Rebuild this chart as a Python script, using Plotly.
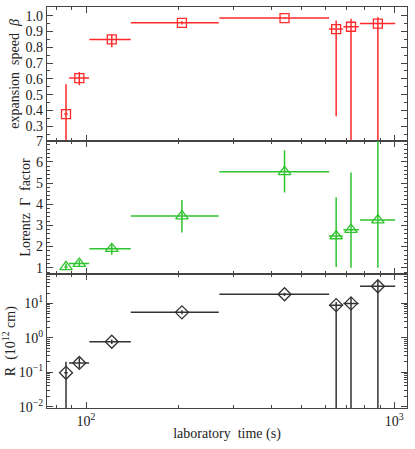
import numpy as np
import plotly.graph_objects as go
from plotly.subplots import make_subplots

# laboratory time (s) and horizontal extents
t = [86.1, 95.1, 121.2, 204.7, 440.6, 648, 724, 885]
t_lo = [85.0, 88.1, 102.5, 139.7, 270.8, 614, 684, 774]
t_hi = [87.2, 102.3, 139.7, 269.6, 615, 681, 767, 1007]

# expansion speed beta
beta = [0.377, 0.605, 0.85, 0.955, 0.985, 0.915, 0.93, 0.95]
beta_hi = [0.566, 0.643, 0.88, 0.965, 0.99, 0.97, 0.98, 0.99]
beta_lo = [0.10, 0.56, 0.80, 0.945, 0.98, 0.363, 0.10, 0.10]

# Lorentz factor Gamma
gam = [1.04, 1.2, 1.9, 3.44, 5.53, 2.5, 2.8, 3.25]
gam_hi = [1.2, 1.35, 2.12, 4.2, 6.55, 4.33, 5.5, 8.0]
gam_lo = [0.9, 1.05, 1.62, 2.67, 4.55, 1.04, 1.0, 1.0]

# radius R (1e12 cm)
rad = [0.096, 0.186, 0.77, 5.5, 18.5, 8.9, 10.0, 31.5]
rad_hi = [0.2, 0.265, 0.9, 6.3, 20.5, 11.0, 15.0, 45.0]
rad_lo = [0.001, 0.13, 0.66, 4.8, 16.5, 0.001, 0.001, 0.001]

RED = "#ff2a2a"
GREEN = "#2ec42e"
BLACK = "#333333"
FONT = "Liberation Serif"

fig = make_subplots(rows=3, cols=1, shared_xaxes=True, vertical_spacing=0)

def add(row, y, yhi, ylo, color, symbol, size):
    fig.add_trace(go.Scatter(
        x=t, y=y, mode="markers",
        marker=dict(symbol=symbol, size=size, color=color,
                    line=dict(color=color, width=1.3)),
        error_x=dict(type="data", symmetric=False,
                     array=[h - v for h, v in zip(t_hi, t)],
                     arrayminus=[v - l for l, v in zip(t_lo, t)],
                     color=color, thickness=1.5, width=0),
        error_y=dict(type="data", symmetric=False,
                     array=[h - v for h, v in zip(yhi, y)],
                     arrayminus=[v - l for l, v in zip(ylo, y)],
                     color=color, thickness=1.5, width=0),
        showlegend=False), row=row, col=1)

add(1, beta, beta_hi, beta_lo, RED, "square-open", 9)
add(2, gam, gam_hi, gam_lo, GREEN, "triangle-up-open", 11)
add(3, rad, rad_hi, rad_lo, BLACK, "diamond-open", 10)

TF = dict(family=FONT, size=14, color="#222")
axis_common = dict(showline=True, linecolor="#444", linewidth=1.2, mirror="ticks",
                   ticks="inside", ticklen=6, tickcolor="#444", showgrid=False,
                   zeroline=False, tickfont=TF, automargin=False)

x_minor = [80, 90] + [k * 100 for k in range(2, 10)]
for r in (1, 2, 3):
    fig.update_xaxes(type="log", range=[np.log10(74.7), np.log10(1100)],
                     tickvals=[100, 1000],
                     ticktext=["10<sup>2</sup>", "10<sup>3</sup>"],
                     minor=dict(tickvals=x_minor, ticks="inside", ticklen=3, tickcolor="#444"),
                     showticklabels=(r == 3), row=r, col=1, **axis_common)

fig.update_xaxes(title=dict(text="laboratory  time (s)", font=TF, standoff=0), row=3, col=1)

fig.update_yaxes(range=[0.209, 1.055], tickvals=[0.3, 0.4, 0.5, 0.6, 0.7, 0.8, 0.9, 1.0],
                 ticktext=["0.3", "0.4", "0.5", "0.6", "0.7", "0.8", "0.9", "1.0"],
                 minor=dict(dtick=0.05, ticks="inside", ticklen=3, tickcolor="#444"),
                 title=dict(text="expansion  speed  <i>β</i>", font=TF, standoff=2),
                 row=1, col=1, **axis_common)
fig.update_yaxes(range=[0.69, 7.0], dtick=1, tick0=0,
                 minor=dict(dtick=0.2, ticks="inside", ticklen=3, tickcolor="#444"),
                 title=dict(text="Lorentz  Γ  factor", font=TF, standoff=2),
                 row=2, col=1, **axis_common)
y_minor = []
for e in range(-2, 2):
    y_minor += [k * 10 ** e for k in range(2, 10)]
fig.update_yaxes(type="log", range=[-2.04, 1.845],
                 tickvals=[0.01, 0.1, 1, 10],
                 ticktext=["10<sup>−2</sup>", "10<sup>−1</sup>", "10<sup>0</sup>", "10<sup>1</sup>"],
                 minor=dict(tickvals=y_minor, ticks="inside", ticklen=3, tickcolor="#444"),
                 title=dict(text="R  (10<sup>12</sup> cm)", font=TF, standoff=2),
                 row=3, col=1, **axis_common)

fig.update_layout(width=415, height=449, margin=dict(l=47, r=8, t=7, b=41),
                  plot_bgcolor="white", paper_bgcolor="white",
                  font=TF)

fig.write_html("out.html", config={"displayModeBar": False},
               post_script="document.body.style.margin='0';document.body.style.overflow='hidden';")
